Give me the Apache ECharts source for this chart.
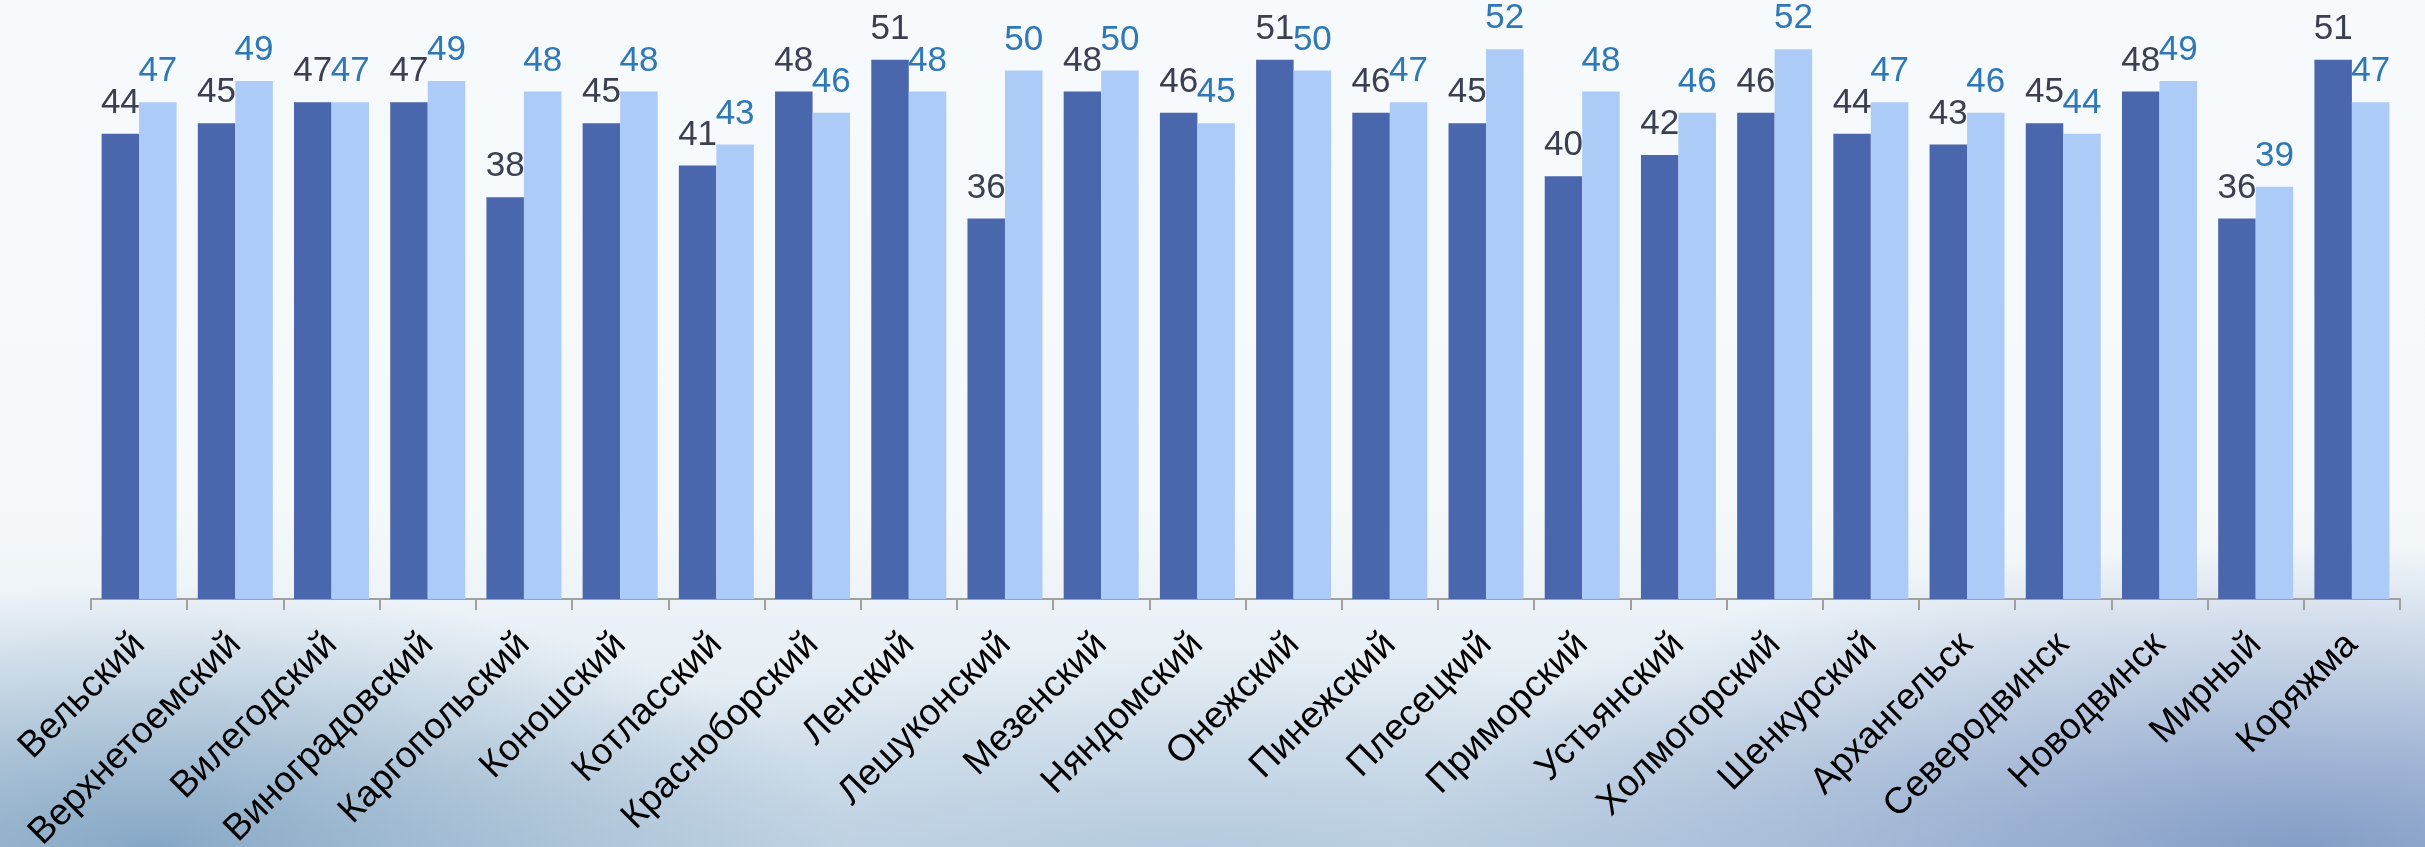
<!DOCTYPE html>
<html>
<head>
<meta charset="utf-8">
<script src="https://cdn.jsdelivr.net/npm/echarts@6/dist/echarts.min.js"></script>
<style>
html,body{margin:0;padding:0;width:2425px;height:847px;overflow:hidden;}
body{
  background:
    radial-gradient(ellipse 700px 260px at 150px 847px, rgba(110,150,185,0.75), rgba(110,150,185,0) 100%),
    radial-gradient(ellipse 900px 300px at 2300px 847px, rgba(100,130,185,0.7), rgba(100,130,185,0) 100%),
    radial-gradient(ellipse 900px 200px at 1200px 847px, rgba(150,180,210,0.45), rgba(150,180,210,0) 100%),
    linear-gradient(to bottom, #f6fafc 0%, #f5f9fb 60%, #e6eef4 80%, #cfdde9 100%);
}
#chart{width:2425px;height:847px;}
</style>
</head>
<body>
<div id="chart"></div>
<script>
var categories = ['Вельский','Верхнетоемский','Вилегодский','Виноградовский','Каргопольский','Коношский','Котласский','Красноборский','Ленский','Лешуконский','Мезенский','Няндомский','Онежский','Пинежский','Плесецкий','Приморский','Устьянский','Холмогорский','Шенкурский','Архангельск','Северодвинск','Новодвинск','Мирный','Коряжма'];
var seriesA = [44,45,47,47,38,45,41,48,51,36,48,46,51,46,45,40,42,46,44,43,45,48,36,51];
var seriesB = [47,49,47,49,48,48,43,46,48,50,50,45,50,47,52,48,46,52,47,46,44,49,39,47];

var chart = echarts.init(document.getElementById('chart'), null, {renderer:'canvas'});
var font = 'Liberation Sans, Arial, sans-serif';
chart.setOption({
  backgroundColor: 'transparent',
  animation: false,
  grid: {left: 91, right: 25, top: 7, height: 592, containLabel: false, outerBoundsMode: 'none'},
  xAxis: {
    type: 'category',
    data: categories,
    boundaryGap: true,
    axisLine: {show: true, lineStyle: {color: '#a0a0a0', width: 2}},
    axisTick: {show: true, length: 11, alignWithLabel: false, lineStyle: {color: '#a0a0a0', width: 2}},
    axisLabel: {rotate: 45, interval: 0, margin: 40, color: '#000000', fontSize: 37, fontFamily: font}
  },
  yAxis: {
    type: 'value', min: 0, max: 56, show: false,
    splitLine: {show: false}
  },
  series: [
    {
      type: 'bar', data: seriesA, barWidth: 37.5, barGap: '0%',
      itemStyle: {color: '#4a66ad'},
      label: {show: true, position: 'top', distance: 13, color: '#3a4050', fontSize: 35, fontFamily: font}
    },
    {
      type: 'bar', data: seriesB, barWidth: 37.5, barGap: '0%',
      itemStyle: {color: '#adcbf7'},
      label: {show: true, position: 'top', distance: 13, color: '#2f78b8', fontSize: 35, fontFamily: font}
    }
  ]
});
</script>
</body>
</html>
